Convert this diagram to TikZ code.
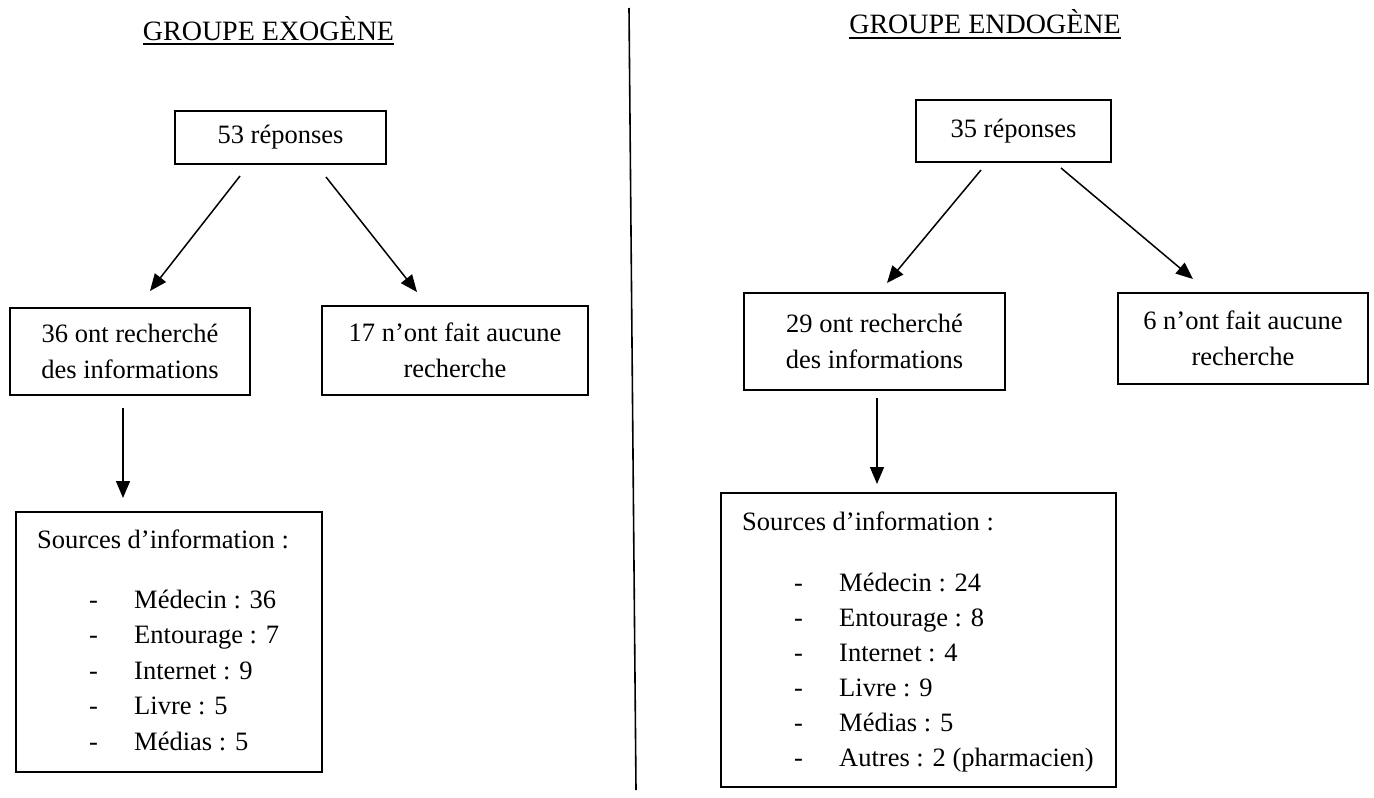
\documentclass[tikz,border=0pt]{standalone}
\usepackage{fontspec}
\setmainfont{Liberation Serif}
\usetikzlibrary{arrows.meta}
\begin{document}
\begin{tikzpicture}[x=1pt,y=-1pt,
  every node/.style={font=\fontsize{26.5}{36}\selectfont},
  box/.style={draw, line width=1.6pt, inner sep=0pt, align=center},
  arr/.style={line width=1.5pt, -{Triangle[length=17pt,width=14pt]}},
  txt/.style={anchor=base west, inner sep=0pt},
  title/.style={anchor=base, inner sep=0pt, font=\fontsize{28}{34}\selectfont},
  uline/.style={line width=1.4pt}]
\useasboundingbox (0,0) rectangle (1374,798);
\fill[white] (0,0) rectangle (1374,798);

% divider
\coordinate (d1) at (629,8);
\coordinate (d2) at (636,790);
\draw[line width=1.6pt] (d1) -- (d2);

% ---------- left: exogene ----------
\node[title] (t1) at (268.5,40) {GROUPE EXOGÈNE};
\draw[uline] ([yshift=-4pt]t1.base west) -- ([yshift=-4pt]t1.base east);

\node[box, minimum width=211pt, minimum height=53pt] (b53) at (280.5,137.5) {53 réponses};
\node[box, minimum width=240pt, minimum height=87pt] (b36) at (130,351.5) {36 ont recherché\\des informations};
\node[box, minimum width=266pt, minimum height=89pt] (b17) at (455,350.5) {17 n’ont fait aucune\\recherche};
\node[box, minimum width=306pt, minimum height=260pt] (sl) at (169,642) {};

\node[txt] (slh) at (37,548) {Sources d’information :};
\foreach \t [count=\i] in {Médecin : 36, Entourage : 7, Internet : 9, Livre : 5, Médias : 5}{
  \node[txt] (sld\i) at (89,{608+35.5*(\i-1)}) {-};
  \node[txt] (slt\i) at (134,{608+35.5*(\i-1)}) {\t};
}

\coordinate (l1s) at (240,176); \coordinate (l1e) at (150,291);
\coordinate (l2s) at (326,177); \coordinate (l2e) at (417,292);
\coordinate (l3s) at (123,408); \coordinate (l3e) at (123,498);
\draw[arr] (l1s) -- (l1e);
\draw[arr] (l2s) -- (l2e);
\draw[arr] (l3s) -- (l3e);

% ---------- right: endogene ----------
\node[title] (t2) at (985,33) {GROUPE ENDOGÈNE};
\draw[uline] ([yshift=-5pt]t2.base west) -- ([yshift=-5pt]t2.base east);

\node[box, minimum width=195pt, minimum height=62pt] (b35) at (1013.5,131) {35 réponses};
\node[box, minimum width=261pt, minimum height=97pt] (b29) at (874.5,341.5) {29 ont recherché\\des informations};
\node[box, minimum width=250pt, minimum height=91pt] (b6) at (1243,338.5) {6 n’ont fait aucune\\recherche};
\node[box, minimum width=395pt, minimum height=294pt] (sr) at (918.5,640) {};

\node[txt] (srh) at (742,530) {Sources d’information :};
\foreach \t [count=\i] in {Médecin : 24, Entourage : 8, Internet : 4, Livre : 9, Médias : 5, Autres : 2 (pharmacien)}{
  \node[txt] (srd\i) at (794,{591+35*(\i-1)}) {-};
  \node[txt] (srt\i) at (839,{591+35*(\i-1)}) {\t};
}

\coordinate (r1s) at (981,170); \coordinate (r1e) at (887,283);
\coordinate (r2s) at (1061,168); \coordinate (r2e) at (1193,279);
\coordinate (r3s) at (877,398); \coordinate (r3e) at (877,484);
\draw[arr] (r1s) -- (r1e);
\draw[arr] (r2s) -- (r2e);
\draw[arr] (r3s) -- (r3e);
\end{tikzpicture}
\end{document}
